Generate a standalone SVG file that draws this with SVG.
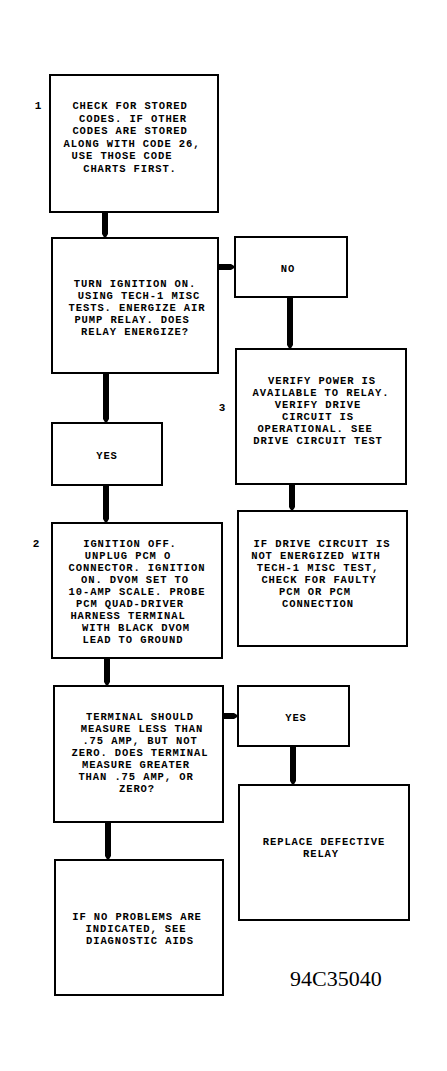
<svg xmlns="http://www.w3.org/2000/svg" width="447" height="1071" viewBox="0 0 447 1071">
<style>
.box{fill:#fff;stroke:#000;stroke-width:2}
.t{font-family:"Liberation Mono","DejaVu Sans Mono",monospace;font-size:10.5px;letter-spacing:0.9px;font-weight:bold;fill:#000;text-anchor:middle}
.n{font-family:"Liberation Mono","DejaVu Sans Mono",monospace;font-size:11px;font-weight:bold;fill:#000;text-anchor:middle}
.c{stroke:#000;stroke-width:6;fill:none;marker-end:url(#tip)}
.fig{font-family:"Liberation Serif","Times New Roman",serif;font-size:22px;fill:#000}
</style>
<defs>
<marker id="tip" markerUnits="userSpaceOnUse" markerWidth="7" markerHeight="8" refX="0" refY="4" orient="auto" overflow="visible">
<path d="M0,1 L2,1 Q5,2.5 6,4 Q5,5.5 2,7 L0,7 Z" fill="#000"/>
</marker>
</defs>
<rect width="447" height="1071" fill="#fff"/>
<g id="connectors">
<line class="c" x1="105" y1="212" x2="105" y2="232"/>
<line class="c" x1="218" y1="267" x2="229" y2="267"/>
<line class="c" x1="290" y1="297" x2="290" y2="343"/>
<line class="c" x1="106" y1="373" x2="106" y2="417"/>
<line class="c" x1="106" y1="485" x2="106" y2="517"/>
<line class="c" x1="292" y1="484" x2="292" y2="505"/>
<line class="c" x1="107" y1="658" x2="107" y2="680"/>
<line class="c" x1="223" y1="716" x2="232" y2="716"/>
<line class="c" x1="293" y1="746" x2="293" y2="779"/>
<line class="c" x1="108" y1="822" x2="108" y2="854"/>
</g>
<g id="node1">
<rect class="box" x="50" y="75" width="168" height="137"/>
<text class="n" x="38" y="109">1</text>
<text class="t" x="130" y="109">CHECK FOR STORED</text>
<text class="t" x="133" y="121.5">CODES. IF OTHER</text>
<text class="t" x="130" y="134">CODES ARE STORED</text>
<text class="t" x="132" y="146.5">ALONG WITH CODE 26,</text>
<text class="t" x="122" y="159">USE THOSE CODE</text>
<text class="t" x="130" y="171.5">CHARTS FIRST.</text>
</g>
<g id="node2">
<rect class="box" x="52" y="238" width="166" height="135"/>
<text class="t" x="135" y="287">TURN IGNITION ON.</text>
<text class="t" x="139" y="299">USING TECH-1 MISC</text>
<text class="t" x="137" y="311">TESTS. ENERGIZE AIR</text>
<text class="t" x="132" y="323">PUMP RELAY. DOES</text>
<text class="t" x="135" y="335">RELAY ENERGIZE?</text>
</g>
<g id="node-no">
<rect class="box" x="235" y="237" width="112" height="60"/>
<text class="t" x="288" y="272">NO</text>
</g>
<g id="node3">
<rect class="box" x="236" y="349" width="170" height="135"/>
<text class="n" x="222" y="411">3</text>
<text class="t" x="322" y="384">VERIFY POWER IS</text>
<text class="t" x="321" y="396">AVAILABLE TO RELAY.</text>
<text class="t" x="318" y="408">VERIFY DRIVE</text>
<text class="t" x="318" y="420">CIRCUIT IS</text>
<text class="t" x="315" y="432">OPERATIONAL. SEE</text>
<text class="t" x="318" y="444">DRIVE CIRCUIT TEST</text>
</g>
<g id="node-yes1">
<rect class="box" x="52" y="423" width="110" height="62"/>
<text class="t" x="107" y="459">YES</text>
</g>
<g id="node4">
<rect class="box" x="52" y="523" width="170" height="135"/>
<text class="n" x="36" y="547">2</text>
<text class="t" x="130" y="546.5">IGNITION OFF.</text>
<text class="t" x="128" y="558.5">UNPLUG PCM O</text>
<text class="t" x="137" y="570.5">CONNECTOR. IGNITION</text>
<text class="t" x="135" y="582.5">ON. DVOM SET TO</text>
<text class="t" x="137" y="594.5">10-AMP SCALE. PROBE</text>
<text class="t" x="130" y="606.5">PCM QUAD-DRIVER</text>
<text class="t" x="128" y="618.5">HARNESS TERMINAL</text>
<text class="t" x="136" y="630.5">WITH BLACK DVOM</text>
<text class="t" x="133" y="642.5">LEAD TO GROUND</text>
</g>
<g id="node5">
<rect class="box" x="238" y="511" width="169" height="135"/>
<text class="t" x="322" y="547">IF DRIVE CIRCUIT IS</text>
<text class="t" x="316" y="559">NOT ENERGIZED WITH</text>
<text class="t" x="318" y="571">TECH-1 MISC TEST,</text>
<text class="t" x="319" y="583">CHECK FOR FAULTY</text>
<text class="t" x="315" y="595">PCM OR PCM</text>
<text class="t" x="318" y="607">CONNECTION</text>
</g>
<g id="node6">
<rect class="box" x="54" y="686" width="169" height="136"/>
<text class="t" x="140" y="720">TERMINAL SHOULD</text>
<text class="t" x="142" y="732">MEASURE LESS THAN</text>
<text class="t" x="140" y="744">.75 AMP, BUT NOT</text>
<text class="t" x="140" y="756">ZERO. DOES TERMINAL</text>
<text class="t" x="136" y="768">MEASURE GREATER</text>
<text class="t" x="136" y="780">THAN .75 AMP, OR</text>
<text class="t" x="137" y="792">ZERO?</text>
</g>
<g id="node-yes2">
<rect class="box" x="238" y="686" width="111" height="60"/>
<text class="t" x="296" y="721">YES</text>
</g>
<g id="node7">
<rect class="box" x="239" y="785" width="170" height="135"/>
<text class="t" x="324" y="845">REPLACE DEFECTIVE</text>
<text class="t" x="321" y="857">RELAY</text>
</g>
<g id="node8">
<rect class="box" x="55" y="860" width="168" height="135"/>
<text class="t" x="137" y="920">IF NO PROBLEMS ARE</text>
<text class="t" x="136" y="932">INDICATED, SEE</text>
<text class="t" x="140" y="944">DIAGNOSTIC AIDS</text>
</g>
<text class="fig" x="290" y="986">94C35040</text>
</svg>
